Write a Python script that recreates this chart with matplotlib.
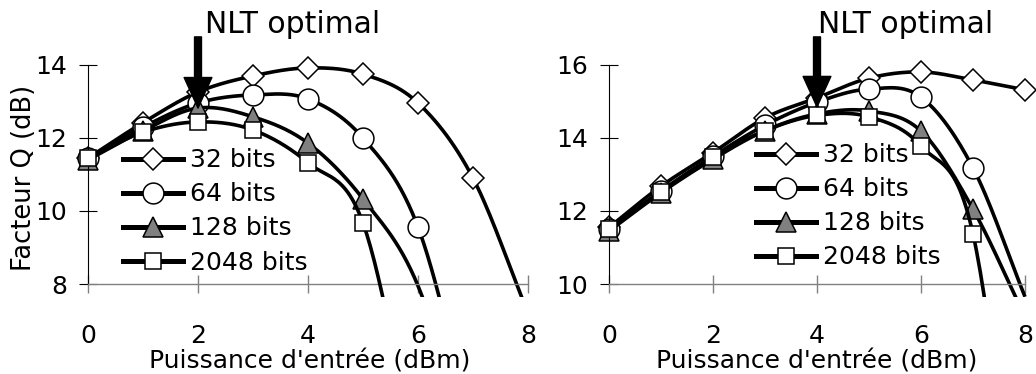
import numpy as np
import matplotlib
matplotlib.use("Agg")
import matplotlib.pyplot as plt
from matplotlib.lines import Line2D

nan = np.nan

# Input power (dBm)
power_dbm = [0, 1, 2, 3, 4, 5, 6, 7, 8]
series_labels = ["32 bits", "64 bits", "128 bits", "2048 bits"]

# Q factor (dB) - left panel
left_q32 = [11.45, 12.42, 13.26, 13.70, 13.92, 13.75, 12.96, 10.90, 7.20]
left_q64 = [11.45, 12.30, 12.96, 13.18, 13.07, 12.00, 9.56, 4.00, nan]
left_q128 = [11.40, 12.20, 12.82, 12.58, 11.86, 10.33, 7.95, 3.00, nan]
left_q2048 = [11.45, 12.16, 12.44, 12.22, 11.32, 9.67, 3.00, nan, nan]

# Q factor (dB) - right panel
right_q32 = [11.55, 12.68, 13.60, 14.55, 15.10, 15.64, 15.81, 15.59, 15.32]
right_q64 = [11.50, 12.55, 13.50, 14.35, 14.98, 15.34, 15.12, 13.18, 9.65]
right_q128 = [11.45, 12.50, 13.42, 14.20, 14.66, 14.74, 14.19, 12.05, 9.10]
right_q2048 = [11.50, 12.52, 13.47, 14.20, 14.62, 14.58, 13.78, 11.37, 1.00]

left_yticks = [8, 10, 12, 14]
right_yticks = [10, 12, 14, 16]
xticks = [0, 2, 4, 6, 8]
left_nlt = 2
right_nlt = 4

W, H = 1036, 374
FS = 18

markers = [
    dict(marker="D", ms=11.5, mfc="white"),
    dict(marker="o", ms=15, mfc="white"),
    dict(marker="^", ms=15, mfc="#808080"),
    dict(marker="s", ms=11, mfc="white"),
]


def smooth(x, y, n=30):
    """Catmull-Rom curve through the points (smoothed line)."""
    x = np.asarray(x, float)
    y = np.asarray(y, float)
    ok = np.isfinite(y)
    x, y = x[ok], y[ok]
    px = np.concatenate([[2 * x[0] - x[1]], x, [2 * x[-1] - x[-2]]])
    py = np.concatenate([[2 * y[0] - y[1]], y, [2 * y[-1] - y[-2]]])
    t = np.linspace(0, 1, n)
    h00 = 2 * t**3 - 3 * t**2 + 1
    h10 = t**3 - 2 * t**2 + t
    h01 = -2 * t**3 + 3 * t**2
    h11 = t**3 - t**2
    xs, ys = [], []
    for i in range(len(x) - 1):
        p0, p1, p2, p3 = i, i + 1, i + 2, i + 3
        mx1 = (px[p2] - px[p0]) / 2
        mx2 = (px[p3] - px[p1]) / 2
        my1 = (py[p2] - py[p0]) / 2
        my2 = (py[p3] - py[p1]) / 2
        xs.append(h00 * px[p1] + h10 * mx1 + h01 * px[p2] + h11 * mx2)
        ys.append(h00 * py[p1] + h10 * my1 + h01 * py[p2] + h11 * my2)
    return np.concatenate(xs), np.concatenate(ys)


def panel(rect, data, yticks, px_per_x, nlt, tip, tail, text_x):
    ax = fig.add_axes(rect)
    floor, top = yticks[0], yticks[-1]
    for i, (vals, st) in enumerate(zip(data, markers)):
        sx, sy = smooth(power_dbm, vals)
        ax.plot(sx, sy, color="black", lw=2.6, solid_capstyle="butt",
                zorder=2 + i * 0.2)
        v = np.asarray(vals, float)
        keep = np.isfinite(v) & (v >= floor)
        ax.plot(np.asarray(power_dbm)[keep], v[keep], ls="none",
                marker=st["marker"], ms=st["ms"], mfc=st["mfc"],
                mec="black", mew=1.1, zorder=2.1 + i * 0.2)
    ax.set_xlim(-0.3, -0.3 + rect[2] * W / px_per_x)
    ppy = 36.5
    ax.set_ylim(top - (297 - 65) / ppy, top + (65 - 54) / ppy)
    for s in ("top", "right"):
        ax.spines[s].set_visible(False)
    ax.spines["left"].set_position(("data", 0))
    ax.spines["left"].set_bounds(floor, top)
    ax.spines["left"].set_linewidth(0.8)
    ax.spines["bottom"].set_position(("data", floor))
    ax.spines["bottom"].set_bounds(0, 8)
    ax.spines["bottom"].set_color("#808080")
    ax.spines["bottom"].set_linewidth(1.0)
    ax.set_xticks(xticks)
    ax.set_yticks(yticks)
    ax.tick_params(axis="x", direction="inout", length=13, width=1.0,
                   color="#808080", labelsize=FS, pad=22.5)
    ax.tick_params(axis="y", direction="inout", length=13, width=0.8,
                   color="black", labelsize=FS, pad=8.5)
    ax.patch.set_visible(False)
    ax.annotate("", xy=(nlt, tip), xytext=(nlt, tail),
                arrowprops=dict(width=5, headwidth=20, headlength=22,
                                facecolor="black", edgecolor="black", shrink=0),
                annotation_clip=False, zorder=6)
    ax.text(text_x, top + (65 - 33) / ppy, "NLT optimal", fontsize=21.5,
            ha="left", va="baseline", clip_on=False)
    return ax


fig = plt.figure(figsize=(W / 100, H / 100), dpi=100)
fig.patch.set_facecolor("white")

left_rect = [71.5 / W, (H - 297) / H, 473 / W, 243 / H]
right_rect = [593.4 / W, (H - 297) / H, 442 / W, 243 / H]

axl = panel(left_rect, [left_q32, left_q64, left_q128, left_q2048],
            left_yticks, 55, left_nlt, 12.82, 14.77, 2.13)
axr = panel(right_rect, [right_q32, right_q64, right_q128, right_q2048],
            right_yticks, 52, right_nlt, 14.85, 16.77, 4.02)

handles = [Line2D([], [], color="black", lw=3.6, marker=st["marker"],
                  ms=st["ms"], mfc=st["mfc"], mec="black", mew=1.1)
           for st in markers]
for ax, (lx, ly) in ((axl, (123, 148.5)), (axr, (756, 143.5))):
    ax.legend(handles, series_labels, loc="upper left",
              bbox_to_anchor=(lx / W, 1 - ly / H),
              bbox_transform=fig.transFigure, frameon=False, fontsize=FS,
              borderpad=0, borderaxespad=0, handlelength=2.4,
              handletextpad=0.28, labelspacing=0.4)

fig.text(310 / W, (H - 368) / H, "Puissance d'entrée (dBm)", fontsize=FS,
         ha="center", va="baseline")
fig.text(817 / W, (H - 368) / H, "Puissance d'entrée (dBm)", fontsize=FS,
         ha="center", va="baseline")
fig.text(24 / W, 1 - 178 / H, "Facteur Q (dB)", fontsize=18.5, rotation=90,
         ha="center", va="center")

fig.savefig("out.png", dpi=100)
